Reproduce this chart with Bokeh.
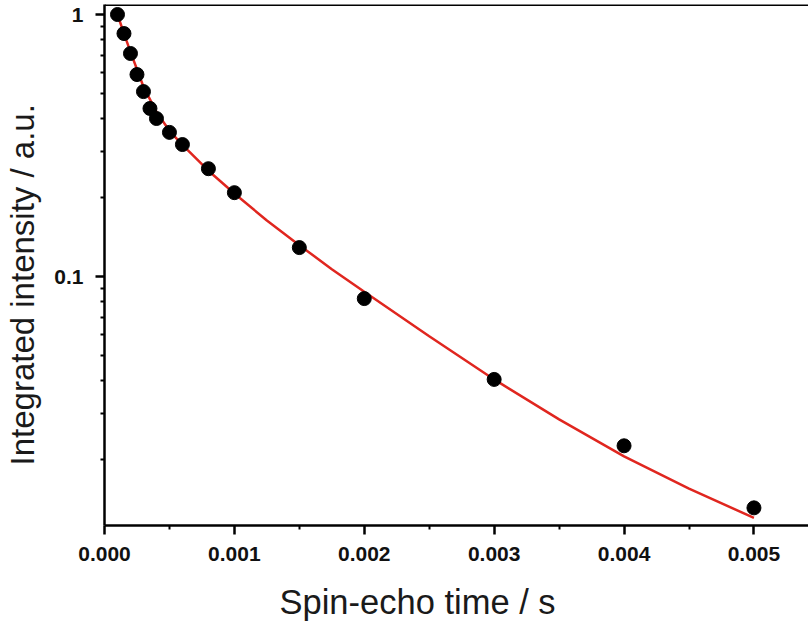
from bokeh.plotting import figure
from bokeh.models import Range1d, FixedTicker, NumeralTickFormatter, Span, Title
from bokeh.embed import file_html
from bokeh.resources import INLINE

# measured data points
time_s = [0.0001, 0.00015, 0.0002, 0.00025, 0.0003, 0.00035, 0.0004, 0.0005,
          0.0006, 0.0008, 0.001, 0.0015, 0.002, 0.003, 0.004, 0.005]
intensity = [1.0, 0.846, 0.71, 0.59, 0.508, 0.438, 0.401, 0.355,
             0.319, 0.258, 0.209, 0.129, 0.0824, 0.0405, 0.0226, 0.0131]

# fitted curve
fit_time = [0.0001, 0.00015, 0.0002, 0.0003, 0.0004, 0.0005, 0.0006, 0.0008,
            0.001, 0.00125, 0.0015, 0.00175, 0.002, 0.0025, 0.003, 0.0035,
            0.004, 0.0045, 0.005]
fit_intensity = [1.0, 0.845, 0.72, 0.53, 0.425, 0.36, 0.318, 0.2535,
                 0.2075, 0.1637, 0.1318, 0.1067, 0.0875, 0.0592, 0.0405, 0.0285,
                 0.0206, 0.0155, 0.0120]

x_ticks = [0.0, 0.001, 0.002, 0.003, 0.004, 0.005]
x_minor = [0.0005, 0.0015, 0.0025, 0.0035, 0.0045, 0.0055]
y_ticks = [0.1, 1.0]
y_tick_labels = ["0.1", "1"]
y_minor = [0.02, 0.03, 0.04, 0.05, 0.06, 0.07, 0.08, 0.09,
           0.2, 0.3, 0.4, 0.5, 0.6, 0.7, 0.8, 0.9]

x_label = "Spin-echo time / s"
y_label = "Integrated intensity / a.u."

FONT = "Liberation Sans"

p = figure(width=808, height=627, output_backend="svg", toolbar_location=None,
           y_axis_type="log",
           x_range=Range1d(0.0, 0.00542), y_range=Range1d(0.01122, 1.092),
           min_border_left=104, min_border_right=0, min_border_top=4,
           min_border_bottom=102)
p.title = None
p.outline_line_color = None
p.background_fill_color = "white"
p.border_fill_color = "white"
p.xgrid.visible = False
p.ygrid.visible = False

for ax in (p.xaxis[0], p.yaxis[0]):
    ax.axis_line_width = 2.5
    ax.axis_line_color = "black"
    ax.major_tick_line_width = 2.5
    ax.minor_tick_line_width = 2
    ax.major_tick_out = 9
    ax.major_tick_in = 0
    ax.minor_tick_out = 4
    ax.minor_tick_in = 0
    ax.major_label_text_font = FONT
    ax.major_label_text_font_style = "bold"
    ax.major_label_text_font_size = "21px"
    ax.major_label_text_color = "#111111"
    # invisible spacer label, used only to push the titles outward
    ax.axis_label = "."
    ax.axis_label_text_alpha = 0
    ax.axis_label_text_font_size = "1px"

p.xaxis[0].axis_label_standoff = 7
p.yaxis[0].axis_label_standoff = 6
p.xaxis[0].major_label_standoff = 12
p.yaxis[0].major_label_standoff = 12
p.xaxis[0].ticker = FixedTicker(ticks=x_ticks, minor_ticks=x_minor)
p.xaxis[0].formatter = NumeralTickFormatter(format="0.000")
p.yaxis[0].ticker = FixedTicker(ticks=y_ticks, minor_ticks=y_minor)
p.yaxis[0].major_label_overrides = dict(zip(y_ticks, y_tick_labels))

p.add_layout(Span(location=1.092, dimension="width", line_color="black", line_width=3))

p.line(fit_time, fit_intensity, line_color="#e0261f", line_width=2.5)
p.scatter(time_s, intensity, size=14, fill_color="black", line_color="black")

p.add_layout(Title(text=x_label, align="left", offset=175, standoff=12,
                   text_font=FONT, text_font_size="34.5px", text_font_style="normal",
                   text_color="#1a1a1a"), "below")
p.add_layout(Title(text=y_label, align="left", offset=60, standoff=2,
                   text_font=FONT, text_font_size="33px", text_font_style="normal",
                   text_color="#1a1a1a"), "left")

open("out.html", "w").write(file_html(p, INLINE))
